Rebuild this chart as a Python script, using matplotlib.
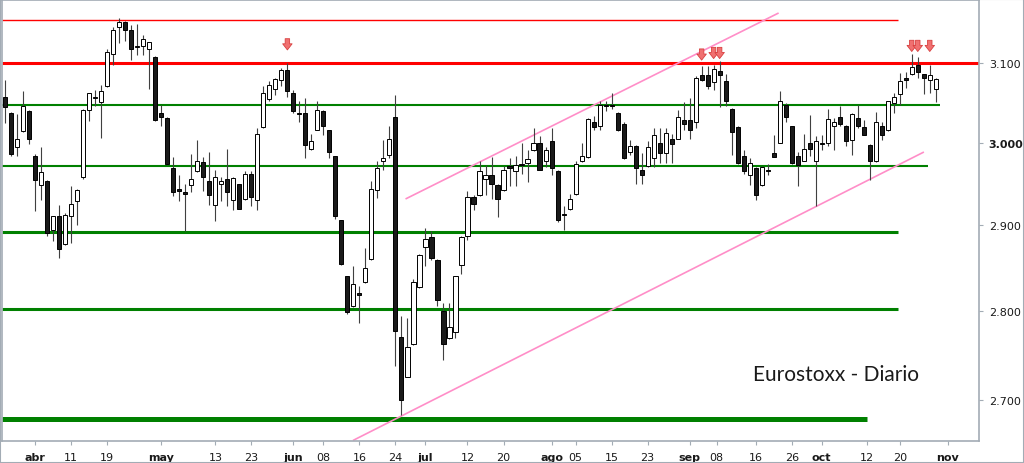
import numpy as np
import matplotlib
matplotlib.use("Agg")
import matplotlib.pyplot as plt
from matplotlib.patches import Rectangle
from matplotlib.ticker import NullLocator

# velas diarias
opens = [3056, 3036, 2994, 3014, 3039, 2984, 2948, 2953, 2894, 2911,
         2878, 2911, 2929, 2958, 3040, 3055, 3050, 3070, 3111, 3146,
         3152, 3141, 3120, 3121, 3117, 3107, 3037, 3030, 2969, 2944,
         2940, 2948, 2965, 2976, 2953, 2924, 2949, 2956, 2930, 2949,
         2931, 2962, 2930, 3019, 3054, 3066, 3078, 3090, 3061, 3036,
         3036, 2992, 3016, 3039, 3015, 2983, 2906, 2840, 2806, 2821,
         2833, 2860, 2942, 2977, 2985, 3032, 2770, 2726, 2762, 2828,
         2875, 2886, 2859, 2800, 2769, 2776, 2853, 2887, 2934, 2936,
         2956, 2960, 2948, 2942, 2971, 2965, 2973, 2975, 2991, 2999,
         2978, 3002, 2965, 2913, 2919, 2938, 2977, 2982, 3025, 3021,
         3047, 3047, 3037, 3023, 2989, 2996, 2967, 2971, 2981, 3000,
         2987, 3005, 3005, 3028, 3028, 3026, 3084, 3084, 3075, 3089,
         3076, 3042, 3019, 2983, 2961, 2969, 2948, 2967, 2987, 3000,
         3046, 3020, 2984, 2978, 3000, 2977, 3000, 3000, 3021, 3032,
         3021, 3003, 3030, 3019, 2997, 2977, 3020, 3015, 3049, 3060,
         3080, 3085, 3097, 3085, 3078, 3066]
highs = [3078, 3038, 3035, 3064, 3040, 2986, 2994, 2954, 2911, 2924,
         2915, 2947, 2943, 3041, 3062, 3065, 3072, 3117, 3146, 3157,
         3153, 3148, 3149, 3135, 3126, 3108, 3046, 3031, 2982, 2960,
         2950, 2986, 3003, 2982, 2989, 2967, 2958, 2992, 2958, 2950,
         2965, 2965, 3018, 3070, 3076, 3081, 3093, 3099, 3065, 3051,
         3055, 3011, 3051, 3040, 3016, 2984, 2907, 2841, 2852, 2829,
         2873, 2953, 2978, 3003, 3021, 3059, 2794, 2792, 2837, 2866,
         2897, 2893, 2860, 2809, 2809, 2841, 2888, 2941, 2936, 2978,
         2972, 2982, 2949, 2971, 2981, 2983, 2999, 2991, 3018, 3008,
         2995, 3018, 2966, 2923, 2938, 2977, 2999, 3030, 3033, 3051,
         3052, 3062, 3038, 3026, 3003, 2997, 2987, 3002, 3018, 3018,
         3018, 3010, 3040, 3050, 3055, 3083, 3095, 3095, 3097, 3102,
         3085, 3043, 3020, 2991, 2981, 2970, 2971, 2974, 3009, 3064,
         3049, 3021, 2989, 3011, 3034, 3008, 3009, 3041, 3030, 3045,
         3022, 3036, 3047, 3028, 2998, 3038, 3026, 3052, 3062, 3087,
         3088, 3111, 3107, 3086, 3097, 3081]
lows = [3024, 2984, 2983, 3013, 2998, 2917, 2930, 2888, 2882, 2861,
        2877, 2879, 2900, 2956, 3027, 3045, 3006, 3069, 3097, 3125,
        3128, 3103, 3109, 3109, 3067, 3027, 3020, 2973, 2935, 2929,
        2893, 2940, 2964, 2941, 2924, 2905, 2929, 2923, 2918, 2919,
        2930, 2923, 2918, 3018, 3051, 3059, 3070, 3056, 3036, 3025,
        2981, 2991, 3016, 3009, 2981, 2908, 2853, 2797, 2805, 2786,
        2832, 2859, 2933, 2967, 2981, 2738, 2683, 2725, 2761, 2827,
        2852, 2859, 2806, 2744, 2768, 2769, 2843, 2883, 2918, 2935,
        2936, 2931, 2910, 2941, 2947, 2947, 2962, 2952, 2990, 2966,
        2970, 2960, 2904, 2894, 2918, 2936, 2976, 2981, 3015, 3015,
        3039, 3042, 3014, 2980, 2985, 2950, 2950, 2970, 2970, 2975,
        2975, 2975, 3004, 3016, 3005, 3018, 3077, 3066, 3065, 3044,
        3045, 2985, 2974, 2962, 2948, 2930, 2947, 2960, 2982, 2999,
        3026, 2974, 2947, 2977, 2983, 2923, 2991, 2996, 2991, 3021,
        2996, 2985, 3018, 3009, 2954, 2976, 3003, 3014, 3036, 3046,
        3068, 3084, 3080, 3060, 3061, 3050]
closes = [3044, 2986, 3005, 3045, 3005, 2954, 2964, 2891, 2911, 2872,
          2912, 2925, 2942, 3040, 3061, 3056, 3064, 3113, 3141, 3152,
          3141, 3117, 3121, 3130, 3126, 3028, 3032, 2974, 2940, 2941,
          2938, 2956, 2978, 2958, 2936, 2958, 2953, 2940, 2957, 2919,
          2962, 2934, 3010, 3062, 3071, 3079, 3090, 3064, 3039, 3035,
          2997, 3002, 3040, 3020, 2989, 2911, 2854, 2799, 2831, 2819,
          2850, 2943, 2969, 2981, 3005, 2777, 2700, 2759, 2833, 2865,
          2884, 2862, 2813, 2763, 2782, 2840, 2886, 2934, 2926, 2965,
          2960, 2949, 2931, 2967, 2969, 2972, 2974, 2980, 3000, 2966,
          2991, 2969, 2907, 2912, 2932, 2974, 2983, 3029, 3019, 3047,
          3045, 3045, 3016, 2981, 2996, 2969, 2960, 2994, 3009, 2987,
          3012, 2998, 3031, 3023, 3016, 3080, 3078, 3070, 3092, 3084,
          3052, 3013, 2975, 2965, 2975, 2936, 2970, 2965, 2982, 3052,
          3032, 2975, 2972, 2992, 2992, 3002, 2998, 3029, 3026, 3023,
          3002, 3035, 3020, 3009, 2977, 3025, 3009, 3051, 3056, 3076,
          3078, 3094, 3088, 3081, 3084, 3079]

# eje x: posicion de la vela y etiqueta
tick_pos = [5, 11, 17, 26, 35, 41, 48, 53, 59, 65, 70, 77, 83,
            91, 95, 101, 107, 114, 118.5, 125, 131, 136, 143.5, 149, 157]
tick_lab = ['abr', '11', '19', 'may', '13', '23', 'jun', '08', '16', '24', 'jul', '12', '20',
            'ago', '05', '15', '23', 'sep', '08', '16', '26', 'oct', '12', '20', 'nov']
meses = ['abr', 'may', 'jun', 'jul', 'ago', 'sep', 'oct', 'nov']

# eje y
y_ticks = [2700, 2800, 2900, 3000, 3100]
y_lab = ['2.700', '2.800', '2.900', '3.000', '3.100']

# soportes / resistencias: precio y vela donde termina la linea
nivel_precio = [3155, 3100, 3047, 2971, 2892, 2802, 2679]
nivel_fin = [148.7, 162.2, 155.7, 153.7, 148.7, 148.7, 143.5]
nivel_color = ['#ff0000', '#ff0000', '#008000', '#008000', '#008000', '#008000', '#008000']
nivel_lw = [1.0, 2.2, 1.5, 1.5, 2.2, 2.2, 3.6]

# canal alcista (dos rectas)
canal_x = [[66.8, 128.7], [58.05, 152.9]]
canal_y = [[2932, 3163], [2656, 2988]]

# flechas de maximos
flecha_idx = [47, 116, 118, 119, 151, 152, 154]
flecha_y = [3116, 3103, 3105, 3105, 3114, 3114, 3114]

o = np.array(opens, float)
c = np.array(closes, float)
hi = np.maximum(np.array(highs, float), np.maximum(o, c))
lo = np.minimum(np.array(lows, float), np.minimum(o, c))
x = np.arange(len(o))

fig = plt.figure(figsize=(10.24, 4.64), dpi=100)
ax = fig.add_axes([1.5 / 1024, 22 / 464, 977.5 / 1024, 441.5 / 464])
ax.set_yscale('log')
ax.set_xlim(-0.62, 162.2)
ax.set_ylim(2655, 3181)

for p, xe, col, lw in zip(nivel_precio, nivel_fin, nivel_color, nivel_lw):
    ax.plot([-0.62, xe], [p, p], color=col, lw=lw, solid_capstyle='butt', zorder=1)

for xs, ys in zip(canal_x, canal_y):
    ax.plot(xs, ys, color='#ff8ec8', lw=1.2, zorder=1.5)

# velas
ax.vlines(x, lo, hi, color='#404040', lw=0.8, zorder=2)
sube = c >= o
body_h = np.maximum(np.abs(c - o), 0.8)
ax.bar(x[sube], body_h[sube], bottom=np.minimum(o, c)[sube], width=0.68,
       color='white', edgecolor='black', linewidth=0.7, zorder=3)
ax.bar(x[~sube], body_h[~sube], bottom=np.minimum(o, c)[~sube], width=0.68,
       color='#1a1a1a', edgecolor='black', linewidth=0.7, zorder=3)

for xi, yi in zip(flecha_idx, flecha_y):
    ax.annotate('', xy=(xi, yi), xytext=(xi, yi * 1.0046),
                arrowprops=dict(arrowstyle='simple,head_length=0.55,head_width=0.85,tail_width=0.4',
                                mutation_scale=8, fc='#f07070', ec='#d84040', lw=0.6,
                                shrinkA=0, shrinkB=0), zorder=4)

ax.text(0.769, 0.152, 'Eurostoxx - Diario', transform=ax.transAxes, fontsize=15,
        family='Lato', color='#1a1a1a', ha='left', va='center')

# ejes
for s in ax.spines.values():
    s.set_color('#a3acb5')
    s.set_linewidth(1.2)
ax.yaxis.tick_right()
ax.yaxis.set_minor_locator(NullLocator())
ax.set_yticks(y_ticks)
ax.set_yticklabels(y_lab)
ax.set_xticks(tick_pos)
ax.set_xticklabels(tick_lab)
ax.tick_params(axis='both', direction='out', length=3, color='#a3acb5',
               labelsize=8, labelcolor='#1a1a1a')
ax.tick_params(axis='y', pad=4)
ax.tick_params(axis='x', pad=5)
for t in ax.get_xticklabels():
    if t.get_text() in meses:
        t.set_fontweight('bold')
for t in ax.get_yticklabels():
    if t.get_text() == '3.000':
        t.set_fontweight('bold')

fig.patches.append(Rectangle((0, 0), 1, 1, transform=fig.transFigure, fill=False,
                             edgecolor='#a3acb5', lw=1.5))

fig.savefig('out.png', dpi=100)
